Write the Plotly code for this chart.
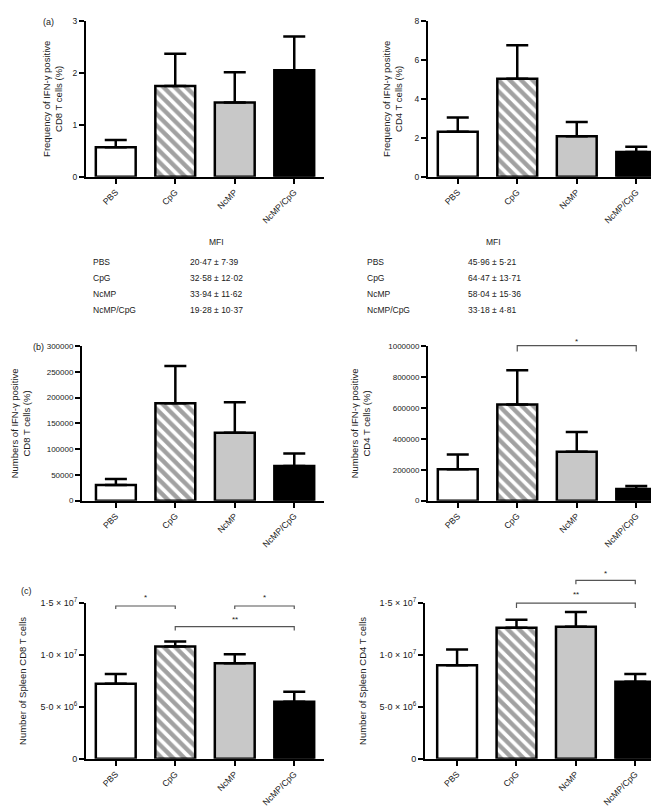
import plotly.graph_objects as go

# ---------------- data ----------------
categories = ["PBS", "CpG", "NcMP", "NcMP/CpG"]

freq_cd8_mean = [0.57, 1.75, 1.43, 2.05]
freq_cd8_sem = [0.14, 0.62, 0.58, 0.65]
freq_cd4_mean = [2.32, 5.03, 2.08, 1.27]
freq_cd4_sem = [0.72, 1.72, 0.73, 0.27]

num_cd8_mean = [30500, 189000, 131700, 67000]
num_cd8_sem = [11500, 72000, 59300, 24600]
num_cd4_mean = [203000, 622000, 317000, 76000]
num_cd4_sem = [95000, 222000, 127000, 19000]

spleen_cd8_mean = [7.22e6, 1.083e7, 9.2e6, 5.5e6]
spleen_cd8_sem = [0.95e6, 0.47e6, 0.87e6, 0.96e6]
spleen_cd4_mean = [9.02e6, 1.263e7, 1.273e7, 7.41e6]
spleen_cd4_sem = [1.52e6, 0.76e6, 1.42e6, 0.76e6]

freq_cd8_ticks = [0, 1, 2, 3]
freq_cd8_ticktext = ["0", "1", "2", "3"]
freq_cd4_ticks = [0, 2, 4, 6, 8]
freq_cd4_ticktext = ["0", "2", "4", "6", "8"]
num_cd8_ticks = [0, 50000, 100000, 150000, 200000, 250000, 300000]
num_cd8_ticktext = ["0", "50000", "100000", "150000", "200000", "250000", "300000"]
num_cd4_ticks = [0, 200000, 400000, 600000, 800000, 1000000]
num_cd4_ticktext = ["0", "200000", "400000", "600000", "800000", "1000000"]
spleen_ticks = [0, 5e6, 1e7, 1.5e7]
spleen_ticktext = ["0", "5·0 × 10<sup>6</sup>", "1·0 × 10<sup>7</sup>", "1·5 × 10<sup>7</sup>"]

mfi_cd8 = ["20·47 ± 7·39", "32·58 ± 12·02", "33·94 ± 11·62", "19·28 ± 10·37"]
mfi_cd4 = ["45·96 ± 5·21", "64·47 ± 13·71", "58·04 ± 15·36", "33·18 ± 4·81"]

# significance brackets: (panel index, group i, group j, bracket y, end y, label, label y)
sig_brackets = [
    (3, 1, 3, 1.003e6, 0.965e6, "*", 1.03e6),
    (4, 0, 1, 1.472e7, 1.443e7, "*", 1.55e7),
    (4, 2, 3, 1.472e7, 1.443e7, "*", 1.55e7),
    (4, 1, 3, 1.273e7, 1.235e7, "**", 1.34e7),
    (5, 2, 3, 1.719e7, 1.681e7, "*", 1.79e7),
    (5, 1, 3, 1.500e7, 1.453e7, "**", 1.58e7),
]

# ---------------- layout helpers ----------------
W, H = 659, 806
FONT = "Liberation Sans, Arial, Helvetica, sans-serif"
TXT = "#1a1a1a"


def fx(px):
    return px / W


def fy(py):
    return 1 - py / H


fills = ["white", "white", "#c8c8c8", "black"]
patterns = ["", "\\", "", ""]

panels = [
    dict(mean=freq_cd8_mean, sem=freq_cd8_sem, xd=(78, 316), xr=[-0.5, 3.5], yd=(6, 164.3), rng=[0, 3],
         tv=freq_cd8_ticks, tt=freq_cd8_ticktext, tf=8.5,
         title="Frequency of IFN-γ positive<br>CD8 T cells (%)", tx=45),
    dict(mean=freq_cd4_mean, sem=freq_cd4_sem, xd=(420, 658), xr=[-0.5, 3.5], yd=(6, 164.3), rng=[0, 8],
         tv=freq_cd4_ticks, tt=freq_cd4_ticktext, tf=8.5,
         title="Frequency of IFN-γ positive<br>CD4 T cells (%)", tx=385),
    dict(mean=num_cd8_mean, sem=num_cd8_sem, xd=(74, 316), xr=[-0.57, 3.5], yd=(336, 493), rng=[0, 300000],
         tv=num_cd8_ticks, tt=num_cd8_ticktext, tf=8,
         title="Numbers of IFN-γ positive<br>CD8 T cells (%)", tx=12),
    dict(mean=num_cd4_mean, sem=num_cd4_sem, xd=(420, 658), xr=[-0.5, 3.5], yd=(336, 493), rng=[0, 1000000],
         tv=num_cd4_ticks, tt=num_cd4_ticktext, tf=8,
         title="Numbers of IFN-γ positive<br>CD4 T cells (%)", tx=352),
    dict(mean=spleen_cd8_mean, sem=spleen_cd8_sem, xd=(78, 316), xr=[-0.5, 3.5], yd=(597, 755), rng=[0, 1.5e7],
         tv=spleen_ticks, tt=spleen_ticktext, tf=9,
         title="Number of Spleen CD8 T cells", tx=15),
    dict(mean=spleen_cd4_mean, sem=spleen_cd4_sem, xd=(417, 657), xr=[-0.54, 3.5], yd=(597, 755), rng=[0, 1.5e7],
         tv=spleen_ticks, tt=spleen_ticktext, tf=9,
         title="Number of Spleen CD4 T cells", tx=355),
]


def val_to_paper_y(p, v):
    top, bot = p["yd"]
    r0, r1 = p["rng"]
    return fy(bot - (v - r0) / (r1 - r0) * (bot - top))


def cat_to_paper_x(p, i):
    left, right = p["xd"]
    r0, r1 = p["xr"]
    return fx(left + (i - r0) / (r1 - r0) * (right - left))


fig = go.Figure()
annotations = []
shapes = []
layout_axes = {}

for k, p in enumerate(panels):
    n = "" if k == 0 else str(k + 1)
    fig.add_trace(go.Bar(
        x=categories, y=p["mean"], xaxis="x" + n, yaxis="y" + n,
        width=0.67,
        marker=dict(color=fills, line=dict(color="black", width=2.5),
                    pattern=dict(shape=patterns, fgcolor="black", size=8, solidity=0.55)),
        error_y=dict(type="data", symmetric=False, array=p["sem"], arrayminus=[0] * 4,
                     color="black", thickness=2.5, width=11),
        showlegend=False, hoverinfo="skip",
    ))
    layout_axes["xaxis" + n] = dict(
        domain=[fx(p["xd"][0]), fx(p["xd"][1])], anchor="y" + n,
        range=p["xr"], showline=True, linecolor="black", linewidth=2,
        ticks="outside", ticklen=5, tickwidth=2, tickcolor="black",
        tickangle=-45, tickfont=dict(size=8.7, color=TXT, family=FONT),
        showgrid=False, zeroline=False, fixedrange=True,
    )
    layout_axes["yaxis" + n] = dict(
        domain=[fy(p["yd"][1]), fy(p["yd"][0])], anchor="x" + n,
        range=p["rng"], tickvals=p["tv"], ticktext=p["tt"],
        showline=True, linecolor="black", linewidth=2,
        ticks="outside", ticklen=5, tickwidth=2, tickcolor="black",
        tickfont=dict(size=p["tf"], color=TXT, family=FONT),
        showgrid=False, zeroline=False, fixedrange=True,
    )
    annotations.append(dict(
        text=p["title"], textangle=-90, xref="paper", yref="paper",
        x=fx(p["tx"]), y=fy((p["yd"][0] + p["yd"][1]) / 2),
        xanchor="center", yanchor="middle", showarrow=False,
        font=dict(size=9.5, color=TXT, family=FONT),
    ))

# panel letters
for lab, px, py in [("(a)", 40, 7), ("(b)", 30, 337), ("(c)", 18, 585)]:
    annotations.append(dict(text=lab, xref="paper", yref="paper", x=fx(px), y=fy(py),
                            xanchor="center", yanchor="middle", showarrow=False,
                            font=dict(size=9, color=TXT, family=FONT)))

# MFI tables
row_y = [251, 267, 283, 299]
for (lx, vx, mx, vals) in [(83, 180, 208, mfi_cd8), (357, 458, 485, mfi_cd4)]:
    annotations.append(dict(text="MFI", xref="paper", yref="paper", x=fx(mx), y=fy(230),
                            xanchor="center", yanchor="middle", showarrow=False,
                            font=dict(size=8.5, color=TXT, family=FONT)))
    for g, v, ry in zip(categories, vals, row_y):
        annotations.append(dict(text=g, xref="paper", yref="paper", x=fx(lx), y=fy(ry),
                                xanchor="left", yanchor="middle", showarrow=False,
                                font=dict(size=8.5, color=TXT, family=FONT)))
        annotations.append(dict(text=v, xref="paper", yref="paper", x=fx(vx), y=fy(ry),
                                xanchor="left", yanchor="middle", showarrow=False,
                                font=dict(size=8.5, color=TXT, family=FONT)))

# significance brackets
BR = "#555555"
for (k, i, j, yb, ye, lab, yl) in sig_brackets:
    p = panels[k]
    xi, xj = cat_to_paper_x(p, i), cat_to_paper_x(p, j)
    pb, pe = val_to_paper_y(p, yb), val_to_paper_y(p, ye)
    shapes.append(dict(type="path", xref="paper", yref="paper",
                       path=f"M{xi},{pe} L{xi},{pb} L{xj},{pb} L{xj},{pe}",
                       line=dict(color=BR, width=1.2)))
    annotations.append(dict(text=lab, xref="paper", yref="paper",
                            x=cat_to_paper_x(p, (i + j) / 2), y=val_to_paper_y(p, yl),
                            xanchor="center", yanchor="middle", showarrow=False,
                            font=dict(size=8, color=TXT, family=FONT)))

fig.update_layout(
    width=W, height=H, margin=dict(l=0, r=0, t=0, b=0),
    paper_bgcolor="white", plot_bgcolor="white",
    font=dict(family=FONT, color=TXT),
    annotations=annotations, shapes=shapes, **layout_axes,
)

fig.write_html("out.html")
